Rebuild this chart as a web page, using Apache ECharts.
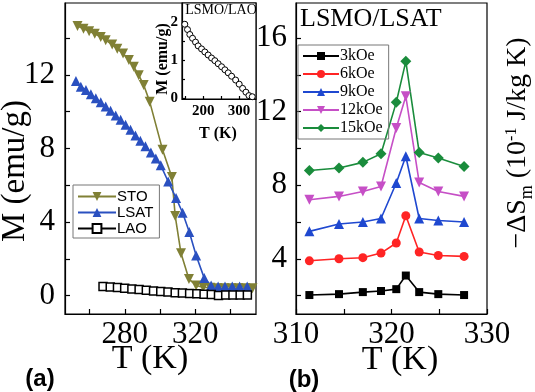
<!DOCTYPE html>
<html>
<head>
<meta charset="utf-8">
<script src="https://cdn.jsdelivr.net/npm/echarts@6/dist/echarts.min.js"></script>
<style>
html, body { margin: 0; padding: 0; background: #fff; }
#chart { width: 535px; height: 392px; }
</style>
</head>
<body>
<div id="chart"></div>
<script>
// (a) M vs T for the three substrates
const stoT = [253.1, 256.5, 259.7, 262.9, 266.3, 269.1, 272.8, 275.7, 279.0, 282.3, 285.1, 287.9, 290.7, 294.1, 301.4, 306.7, 308.6, 311.9, 316.4, 320.5, 324.5, 328.5, 332.5, 336.5, 340.5, 344.5, 348.5, 352.5]
const stoM = [14.65, 14.5, 14.36, 14.23, 14.05, 13.88, 13.64, 13.42, 13.15, 12.8, 12.43, 11.98, 11.44, 10.54, 7.93, 6.45, 4.33, 2.3, 0.9, 0.55, 0.45, 0.42, 0.4, 0.4, 0.4, 0.4, 0.4, 0.4]
const lsatT = [252.2, 255.0, 257.9, 260.7, 263.5, 266.3, 269.1, 271.9, 274.8, 277.6, 280.4, 283.2, 286.0, 288.8, 291.7, 294.8, 297.6, 300.4, 304.6, 309.1, 312.8, 316.6, 320.5, 325.1, 329.0, 333.0, 336.9, 341.0, 345.2, 349.5]
const lsatM = [11.66, 11.35, 11.17, 10.94, 10.72, 10.5, 10.27, 10.04, 9.78, 9.55, 9.28, 9.01, 8.7, 8.42, 8.11, 7.78, 7.45, 7.08, 6.2, 5.3, 4.5, 3.46, 2.18, 0.95, 0.55, 0.5, 0.5, 0.5, 0.5, 0.5]
const laoT = [267.6, 271.7, 275.8, 279.9, 284.0, 288.1, 292.2, 296.3, 300.4, 304.5, 308.6, 312.7, 316.8, 320.9, 325.0, 329.1, 333.2, 337.3, 341.4, 345.5, 349.6]
const laoM = [0.5, 0.47, 0.44, 0.4, 0.36, 0.33, 0.29, 0.25, 0.22, 0.19, 0.16, 0.14, 0.12, 0.1, 0.08, 0.06, 0.01, 0.03, 0.03, 0.03, 0.03]

// inset: LSMO/LAO over a wide range
const insetT = [147.9, 155.5, 162.0, 169.6, 178.0, 185.4, 194.9, 204.2, 213.5, 223.1, 232.4, 241.7, 251.3, 260.6, 269.9, 279.4, 290.7, 300.8, 310.4, 319.7, 328.2, 337.5]
const insetM = [1.94, 1.8, 1.67, 1.57, 1.47, 1.37, 1.29, 1.21, 1.13, 1.05, 0.98, 0.9, 0.82, 0.74, 0.66, 0.57, 0.47, 0.36, 0.25, 0.15, 0.06, 0.03]

// (b) -dSm vs T, LSMO/LSAT
const entT = [311.4, 314.5, 317.0, 318.9, 320.5, 321.5, 322.9, 324.9, 327.6]
const s3k = [2.03, 2.08, 2.19, 2.25, 2.35, 3.09, 2.19, 2.08, 2.03]
const s6k = [3.89, 4.0, 4.06, 4.31, 4.86, 6.34, 4.37, 4.18, 4.13]
const s9k = [5.49, 5.89, 6.0, 6.19, 8.12, 9.57, 6.19, 6.08, 6.0]
const s12k = [7.21, 7.39, 7.66, 7.93, 11.11, 12.83, 8.15, 7.66, 7.39]
const s15k = [8.8, 8.93, 9.24, 9.71, 12.5, 14.73, 9.78, 9.48, 9.02]

// ticks and labels
const aXTicks = [260, 280, 300, 320, 340]
const aXLabels = [280, 320]
const aYTicks = [0, 2, 4, 6, 8, 10, 12, 14]
const aYLabels = [0, 4, 8, 12]
const inXTicks = [150, 200, 250, 300]
const inXLabels = [200, 300]
const inYTicks = [0, 0.5, 1, 1.5, 2]
const inYLabels = [0, 1, 2]
const bXTicks = [310, 315, 320, 325, 330]
const bXLabels = [310, 320, 330]
const bYTicks = [2, 4, 6, 8, 10, 12, 14, 16]
const bYLabels = [4, 8, 12, 16]

const serif = '"Liberation Serif", "Times New Roman", serif'
const sans = '"Liberation Sans", Arial, sans-serif'

function zip (xs, ys) {
  return xs.map((x, i) => [x, ys[i]])
}

function valAxis (grid, min, max, ticks, labels, fontSize, margin, bold) {
  return {
    type: 'value',
    gridIndex: grid,
    min: min,
    max: max,
    axisLine: { show: true, onZero: false, lineStyle: { color: '#000', width: 1.2 } },
    axisTick: { show: true, inside: true, length: grid === 1 ? 3 : 5, customValues: ticks, lineStyle: { color: '#000', width: 1.2 } },
    axisLabel: {
      customValues: labels,
      margin: margin,
      formatter: function (v) { return '{s|' + v + '}' },
      rich: {
        s: {
          color: '#000',
          fontFamily: serif,
          fontSize: fontSize,
          fontWeight: bold ? 'bold' : 'normal'
        }
      }
    },
    splitLine: { show: false }
  }
}

function lineSeries (name, x, y, g, color, symbol, size, extra) {
  return Object.assign({
    name: name,
    type: 'line',
    xAxisIndex: g,
    yAxisIndex: g,
    data: zip(x, y),
    symbol: symbol,
    symbolSize: size,
    lineStyle: { color: color, width: 1.6 },
    itemStyle: { color: color },
    showAllSymbol: true,
    animation: false
  }, extra || {})
}

const chart = echarts.init(document.getElementById('chart'))
chart.setOption({
  backgroundColor: '#fff',
  animation: false,
  textStyle: { fontFamily: serif },
  grid: [
    { left: 65, top: 3, width: 191, height: 311, show: true, borderColor: '#000', borderWidth: 1.2 },
    { left: 182, top: 3, width: 74, height: 96, show: true, borderColor: '#000', borderWidth: 1.2, backgroundColor: '#fff' },
    { left: 296, top: 3, width: 191, height: 311, show: true, borderColor: '#000', borderWidth: 1.2 }
  ],
  xAxis: [
    valAxis(0, 246, 354.5, aXTicks, aXLabels, 31, 5),
    valAxis(1, 140, 348, inXTicks, inXLabels, 15, 5, true),
    valAxis(2, 310, 330, bXTicks, bXLabels, 31, 5)
  ],
  yAxis: [
    valAxis(0, -1, 15.9, aYTicks, aYLabels, 31, 10),
    valAxis(1, -0.03, 2.5, inYTicks, inYLabels, 15, 4, true),
    valAxis(2, 1, 17.9, bYTicks, bYLabels, 31, 9)
  ],
  legend: [
    {
      data: ['STO', 'LSAT', 'LAO'],
      orient: 'vertical',
      left: 73,
      top: 185,
      itemWidth: 38,
      itemHeight: 11,
      itemGap: 1,
      padding: [4, 6, 2, 4],
      borderColor: '#777',
      borderWidth: 1,
      textStyle: { fontFamily: sans, fontSize: 15, color: '#000', padding: [0, 0, 0, -4] }
    },
    {
      data: ['3kOe', '6kOe', '9kOe', '12kOe', '15kOe'],
      orient: 'vertical',
      left: 298,
      top: 45,
      itemWidth: 36,
      itemHeight: 10,
      itemGap: 2,
      padding: [3, 6, 3, 4],
      borderColor: '#777',
      borderWidth: 1,
      textStyle: { fontFamily: serif, fontSize: 16, color: '#000', padding: [0, 0, 0, -4] }
    }
  ],
  series: [
    lineSeries('STO', stoT, stoM, 0, '#808035', 'triangle', 10, { symbolRotate: 180 }),
    lineSeries('LSAT', lsatT, lsatM, 0, '#2a50c0', 'triangle', 10),
    lineSeries('LAO', laoT, laoM, 0, '#000', 'rect', 8, { itemStyle: { color: '#fff', borderColor: '#000', borderWidth: 1.5 } }),
    lineSeries('LSMO/LAO', insetT, insetM, 1, '#000', 'circle', 6, { lineStyle: { color: '#000', width: 1 }, itemStyle: { color: '#fff', borderColor: '#000', borderWidth: 1 } }),
    lineSeries('3kOe', entT, s3k, 2, '#000', 'rect', 8),
    lineSeries('6kOe', entT, s6k, 2, '#ff2424', 'circle', 9),
    lineSeries('9kOe', entT, s9k, 2, '#1f48d0', 'triangle', 10),
    lineSeries('12kOe', entT, s12k, 2, '#c64fc6', 'triangle', 10, { symbolRotate: 180 }),
    lineSeries('15kOe', entT, s15k, 2, '#1a8c3c', 'diamond', 11)
  ],
  graphic: [
    { type: 'text', x: 15, y: 171, rotation: Math.PI / 2, style: { text: 'M (emu/g)', font: '33px "Liberation Serif"', fill: '#000', align: 'center', verticalAlign: 'middle' } },
    { type: 'text', x: 150, y: 359, style: { text: 'T (K)', font: '34px "Liberation Serif"', fill: '#000', align: 'center', verticalAlign: 'middle' } },
    { type: 'text', x: 400, y: 360, style: { text: 'T (K)', font: '34px "Liberation Serif"', fill: '#000', align: 'center', verticalAlign: 'middle' } },
    { type: 'text', x: 40, y: 379, style: { text: '(a)', font: 'bold 24px "Liberation Sans"', fill: '#000', align: 'center', verticalAlign: 'middle' } },
    { type: 'text', x: 304, y: 380, style: { text: '(b)', font: 'bold 24px "Liberation Sans"', fill: '#000', align: 'center', verticalAlign: 'middle' } },
    { type: 'text', x: 300, y: 19, style: { text: 'LSMO/LSAT', font: '26px "Liberation Serif"', fill: '#000', align: 'left', verticalAlign: 'middle' } },
    { type: 'text', x: 221, y: 10, z: 10, style: { text: 'LSMO/LAO', font: '14px "Liberation Serif"', fill: '#000', align: 'center', verticalAlign: 'middle' } },
    { type: 'text', x: 163, y: 59, rotation: Math.PI / 2, style: { text: 'M (emu/g)', font: 'bold 16px "Liberation Serif"', fill: '#000', align: 'center', verticalAlign: 'middle' } },
    { type: 'text', x: 218, y: 134, style: { text: 'T (K)', font: 'bold 16px "Liberation Serif"', fill: '#000', align: 'center', verticalAlign: 'middle' } },
    {
      type: 'text',
      x: 518,
      y: 143,
      rotation: Math.PI / 2,
      style: {
        text: '{a|−ΔS}{b|m}{a| (10}{c|-1}{a| J/kg K)}',
        align: 'center',
        verticalAlign: 'middle',
        fill: '#000',
        rich: {
          a: { fontFamily: serif, fontSize: 28, lineHeight: 40, verticalAlign: 'middle', fill: '#000' },
          b: { fontFamily: serif, fontSize: 18, lineHeight: 40, verticalAlign: 'bottom', fill: '#000', padding: [0, 0, 2, 0] },
          c: { fontFamily: serif, fontSize: 16, lineHeight: 40, verticalAlign: 'top', fill: '#000', padding: [6, 0, 0, 0] }
        }
      }
    }
  ]
})
</script>
</body>
</html>
